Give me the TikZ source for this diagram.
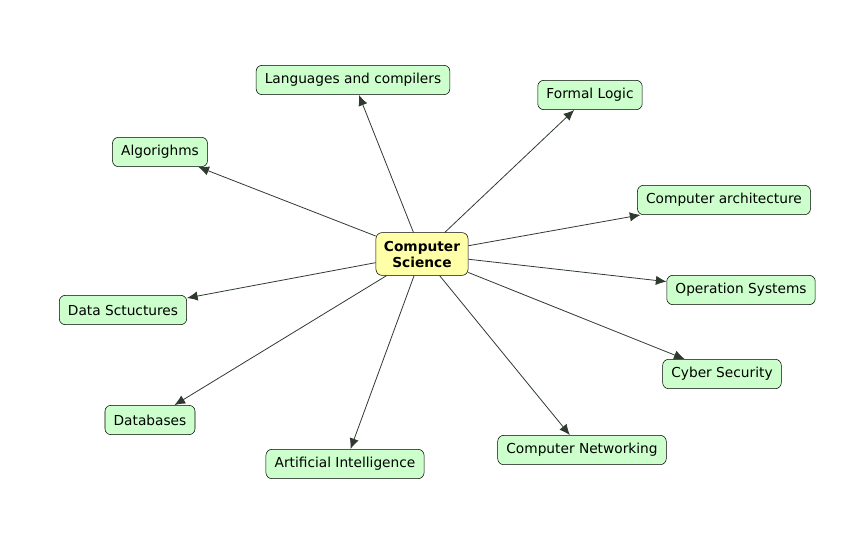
\documentclass[tikz,border=0pt]{standalone}
\usepackage{fontspec}
\setmainfont{DejaVu Sans}
\usetikzlibrary{arrows.meta}
\definecolor{topicgreen}{HTML}{CCFFCC}
\definecolor{hubyellow}{HTML}{FFFFA8}
\definecolor{linkgray}{HTML}{2F3A2F}
\tikzset{
  topic/.style={draw=black, fill=topicgreen, rounded corners=4.5pt, minimum height=22pt,
    inner xsep=6.5pt, font=\fontsize{10.3}{12}\selectfont},
  hub/.style={draw=black, fill=hubyellow, rounded corners=4.5pt, minimum height=32pt,
    inner xsep=6pt, align=center, font=\fontsize{10.3}{12}\selectfont\bfseries},
  link/.style={draw=linkgray, line width=0.6pt, -{Latex[length=8pt,width=7pt]}}
}
\begin{document}
\begin{tikzpicture}[x=0.75pt, y=-0.75pt]
                \useasboundingbox (0,0) rectangle (865,539);
                \node[hub] (cs) at (422,254) {Computer\\Science};

                \node[topic] (lang) at (353,80) {Languages and compilers};
                \node[topic] (logic) at (590,95) {Formal Logic};
                \node[topic] (algo) at (160,152) {Algorighms};
                \node[topic] (arch) at (724,200) {Computer architecture};
                \node[topic] (data) at (123,310) {Data Sctuctures};
                \node[topic] (os) at (741,290) {Operation Systems};
                \node[topic] (cyber) at (722,374) {Cyber Security};
                \node[topic] (db) at (150,420) {Databases};
                \node[topic] (ai) at (345,464) {Artificial Intelligence};
                \node[topic] (net) at (582,450) {Computer Networking};

                \draw[link] (cs) -- (lang);
                \draw[link] (cs) -- (logic);
                \draw[link] (cs) -- (algo);
                \draw[link] (cs) -- (arch);
                \draw[link] (cs) -- (data);
                \draw[link] (cs) -- (os);
                \draw[link] (cs) -- (cyber);
                \draw[link] (cs) -- (db);
                \draw[link] (cs) -- (ai);
                \draw[link] (cs) -- (net);
            \end{tikzpicture}
\end{document}
